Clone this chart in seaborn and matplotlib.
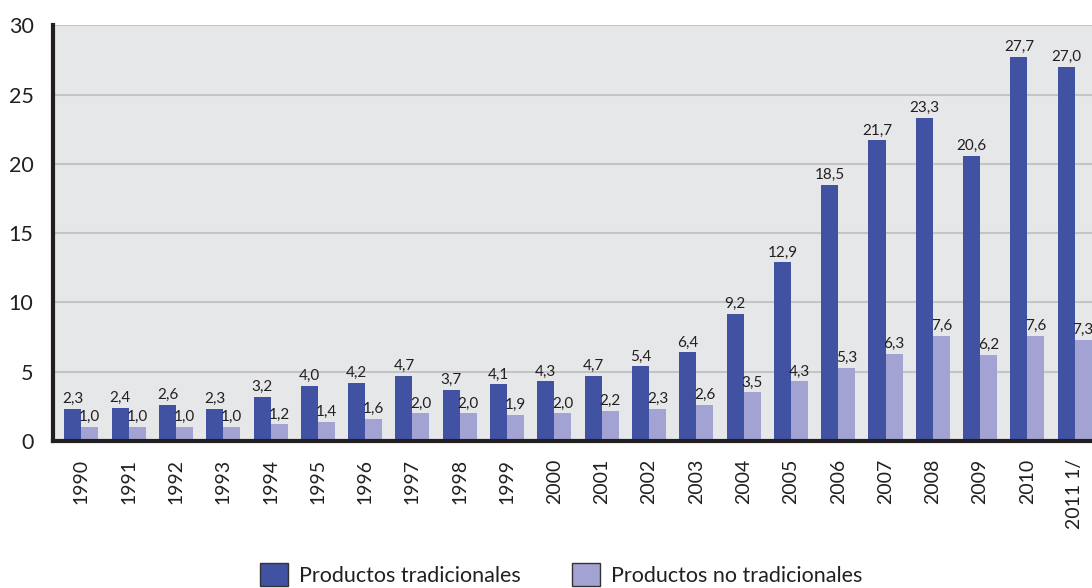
#!/usr/bin/env python3
"""Exportaciones: productos tradicionales y no tradicionales, 1990-2011."""

import matplotlib.pyplot as plt
import pandas as pd
import seaborn as sns
from matplotlib.patches import Patch

years = [
    "1990", "1991", "1992", "1993", "1994", "1995", "1996", "1997", "1998",
    "1999", "2000", "2001", "2002", "2003", "2004", "2005", "2006", "2007",
    "2008", "2009", "2010", "2011 1/",
]
tradicionales = [
    2.3, 2.4, 2.6, 2.3, 3.2, 4.0, 4.2, 4.7, 3.7, 4.1, 4.3,
    4.7, 5.4, 6.4, 9.2, 12.9, 18.5, 21.7, 23.3, 20.6, 27.7, 27.0,
]
no_tradicionales = [
    1.0, 1.0, 1.0, 1.0, 1.2, 1.4, 1.6, 2.0, 2.0, 1.9, 2.0,
    2.2, 2.3, 2.6, 3.5, 4.3, 5.3, 6.3, 7.6, 6.2, 7.6, 7.3,
]
series = ["Productos tradicionales", "Productos no tradicionales"]
colors = ["#4152a2", "#a3a3d3"]

sns.set_theme(style="white")
plt.rcParams["font.family"] = ["Lato", "DejaVu Sans"]
ink = "#231f20"

data = pd.DataFrame(
    {
        "year": years * 2,
        "value": tradicionales + no_tradicionales,
        "serie": [series[0]] * len(years) + [series[1]] * len(years),
    }
)

fig = plt.figure(figsize=(10.92, 5.88), dpi=100)
ax = fig.add_axes([0.0485, 0.25, 0.953, 0.707])
ax.set_facecolor("#e6e7e8")

sns.barplot(
    data=data, x="year", y="value", hue="serie", hue_order=series,
    palette=colors, width=0.72, gap=0, saturation=1, linewidth=0,
    ax=ax, legend=False,
)

for container, vals in zip(ax.containers, (tradicionales, no_tradicionales)):
    ax.bar_label(
        container,
        labels=[f"{v:.1f}".replace(".", ",") for v in vals],
        padding=2, fontsize=11, color=ink,
    )

# category boundaries sit a little left of the midpoints between groups
ax.set_ylim(0, 30)
ax.set_xlim(-0.6, len(years) - 0.6)
ax.set_yticks(range(0, 31, 5))
ax.yaxis.grid(True, color="#c4c4c6", linewidth=1.5)
ax.set_axisbelow(True)

ax.set_xticks(range(len(years)))
ax.set_xticklabels(years, rotation=90)
ax.set_xticks([i - 0.6 for i in range(len(years) + 1)], minor=True)
ax.tick_params(axis="x", which="major", length=0, pad=13, labelsize=14,
               labelcolor=ink)
ax.tick_params(axis="x", which="minor", length=8, width=3, color=ink,
               direction="out")
ax.tick_params(axis="y", length=8, width=3, color=ink, direction="out",
               labelsize=15.5, labelcolor=ink, pad=6)

ax.set_xlabel("")
ax.set_ylabel("")
for side in ("top", "right"):
    ax.spines[side].set_visible(False)
for side in ("left", "bottom"):
    ax.spines[side].set_color(ink)
    ax.spines[side].set_linewidth(3)

handles = [Patch(facecolor=c, edgecolor="#333333", linewidth=1) for c in colors]
fig.legend(
    handles, series, loc="lower center", bbox_to_anchor=(0.514, -0.03),
    ncol=2, frameon=False, fontsize=15.5, handlelength=1.3, handleheight=1.3,
    columnspacing=2.4, handletextpad=0.5, labelcolor=ink,
)

plt.savefig("out.png", dpi=100)
plt.close()
